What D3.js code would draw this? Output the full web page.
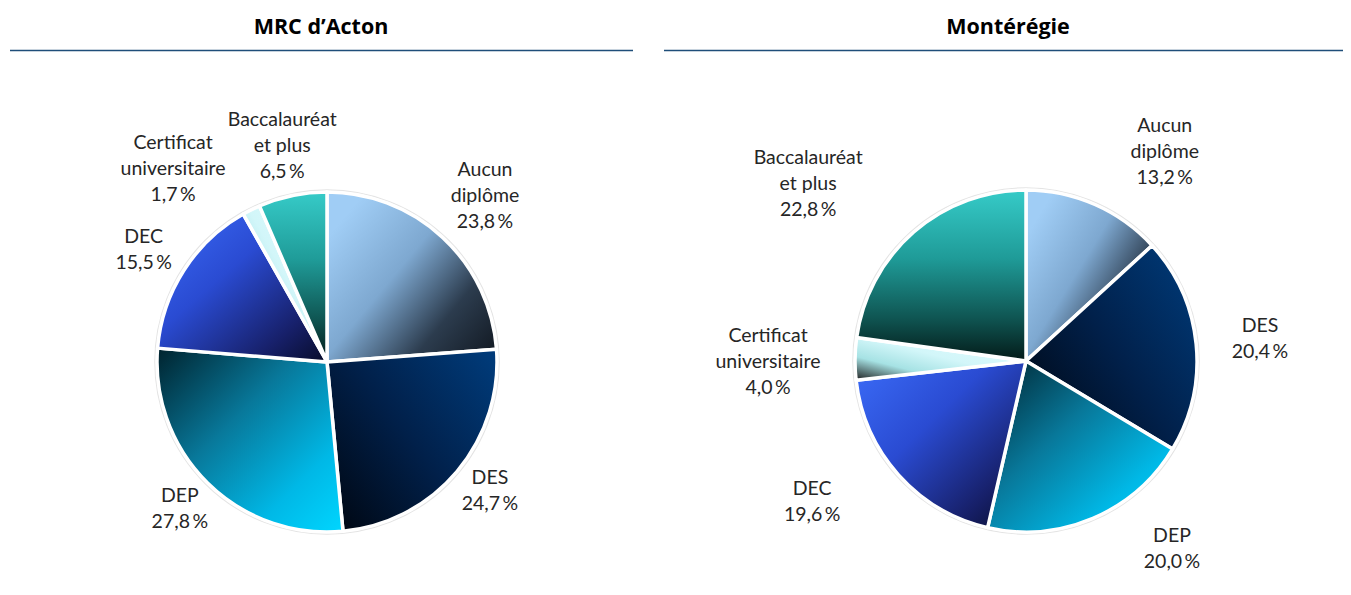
<!DOCTYPE html>
<html><head><meta charset="utf-8">
<script src="https://cdn.jsdelivr.net/npm/d3@7"></script>
<style>
html,body{margin:0;padding:0;background:#fff;}
svg{display:block;font-family:Lato,"Open Sans",sans-serif;}
</style></head>
<body><svg id="c" width="1351" height="595"></svg>
<script>
// ---- data ----
const categories = ["Aucun diplôme","DES","DEP","DEC","Certificat universitaire","Baccalauréat et plus"];
const labelLines = [["Aucun","diplôme"],["DES"],["DEP"],["DEC"],["Certificat","universitaire"],["Baccalauréat","et plus"]];
const titles = ["MRC d’Acton","Montérégie"];
const actonValues = [23.8, 24.7, 27.8, 15.5, 1.7, 6.5];
const monteregieValues = [13.2, 20.4, 20.0, 19.6, 4.0, 22.8];

// ---- layout (not data) ----
const panels = [
  {values: actonValues, title: titles[0], cx: 327, cy: 362, r: 170, x0: 10, x1: 633, tx: 321,
   dA: [0.8,-1.7,0.4,-1.1,-12.1,0], dR: [59,38,38,45,77,51]},
  {values: monteregieValues, title: titles[1], cx: 1026, cy: 361, r: 171, x0: 664, x1: 1343, tx: 1008,
   dA: [9.8,0.4,-14.8,8.4,-0.9,-9.8], dR: [80,64,67,85,87,110]}
];

const grads = [
  {x1:0.1,y1:0.15,x2:1,y2:0.9, stops:[[0,"#a0cdf5"],[0.38,"#7ea8d0"],[0.72,"#2c3c4e"],[1,"#141c26"]]},
  {x1:0,y1:0.9,x2:1,y2:0.1, stops:[[0,"#000814"],[0.5,"#01204a"],[1,"#003a78"]]},
  {x1:0,y1:0,x2:1,y2:1, stops:[[0,"#00222d"],[0.4,"#08789a"],[0.75,"#00b8e6"],[1,"#00d6ff"]]},
  {x1:0,y1:0,x2:1,y2:1, stops:[[0,"#3b6cf8"],[0.4,"#2a4bd2"],[0.78,"#17206a"],[1,"#070b28"]]},
  {x1:0,y1:1,x2:0.7,y2:0.3, stops:[[0,"#1c1c1c"],[0.4,"#a6e2e4"],[0.75,"#d2f6f9"],[1,"#d8f8fb"]]},
  {x1:0,y1:0,x2:0,y2:1, stops:[[0,"#36cbc8"],[0.4,"#1f9b98"],[0.75,"#0f5552"],[1,"#031a18"]]}
];

const svg = d3.select("#c");
const defs = svg.append("defs");
grads.forEach((g,i)=>{
  const lg = defs.append("linearGradient").attr("id","g"+i)
    .attr("x1",g.x1).attr("y1",g.y1).attr("x2",g.x2).attr("y2",g.y2);
  g.stops.forEach(s=>lg.append("stop").attr("offset",s[0]).attr("stop-color",s[1]));
});

const fmt = v => d3.format(".1f")(v).replace(".", ",") + "\u2009%";
const pie = d3.pie().sort(null).value(d=>d);

panels.forEach(p=>{
  // title
  svg.append("text").attr("x",p.tx).attr("y",34).attr("text-anchor","middle")
    .attr("font-family","'Open Sans',Lato,sans-serif")
    .attr("font-weight","bold").attr("font-size",21.5).attr("fill","#000").text(p.title);
  svg.append("line").attr("x1",p.x0).attr("x2",p.x1).attr("y1",50.5).attr("y2",50.5)
    .attr("stroke","#1f4e79").attr("stroke-width",1.5);

  const g = svg.append("g").attr("transform",`translate(${p.cx},${p.cy})`);
  g.append("circle").attr("r",p.r+2).attr("fill","none").attr("stroke","#e4e4e4").attr("stroke-width",1.5);
  const arcs = pie(p.values);
  const arc = d3.arc().innerRadius(0).outerRadius(p.r);
  g.selectAll("path").data(arcs).enter().append("path")
    .attr("d",arc).attr("fill",(d,i)=>`url(#g${i})`)
    .attr("stroke","#fff").attr("stroke-width",3.5).attr("stroke-linejoin","round");

  arcs.forEach((d,i)=>{
    const mid = (d.startAngle+d.endAngle)/2 + p.dA[i]*Math.PI/180;
    const dist = p.r + p.dR[i];
    const lx = Math.sin(mid)*dist, ly = -Math.cos(mid)*dist;
    const lines = labelLines[i].concat([fmt(d.data)]);
    const lh = 26;
    const t = g.append("text").attr("text-anchor","middle").attr("font-size",19.5).attr("fill","#262626");
    lines.forEach((s,k)=>{
      t.append("tspan").attr("x",lx).attr("y",ly + (k-(lines.length-1)/2)*lh + 6).text(s);
    });
  });
});
</script></body></html>
